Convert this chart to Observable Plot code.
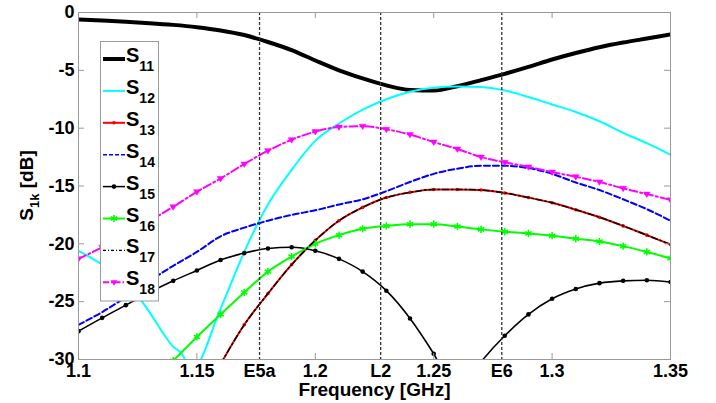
<!DOCTYPE html>
<html><head><meta charset="utf-8">
<script src="https://cdn.jsdelivr.net/npm/d3@7"></script>
<script src="https://cdn.jsdelivr.net/npm/@observablehq/plot@0.6"></script>
<style>body{margin:0;background:#fff;}</style>
</head><body><div id="chart"></div>
<script>
// ---- data ----
const freq = [1.10,1.11,1.12,1.13,1.14,1.15,1.16,1.17,1.18,1.19,1.20,1.21,1.22,1.23,1.24,1.25,1.26,1.27,1.28,1.29,1.30,1.31,1.32,1.33,1.34,1.35];
const S11 = [-0.6,-0.7,-0.8,-0.92,-1.07,-1.27,-1.55,-1.95,-2.55,-3.25,-4.15,-5.0,-5.7,-6.3,-6.7,-6.75,-6.37,-5.85,-5.3,-4.7,-4.06,-3.5,-3.0,-2.6,-2.25,-1.9];
const S12freq = [1.10,1.11,1.12,1.13,1.135,1.14,1.143,1.148,1.16,1.17,1.18,1.19,1.20,1.21,1.22,1.23,1.24,1.25,1.26,1.27,1.28,1.29,1.30,1.31,1.32,1.33,1.34,1.35];
const S12 = [-20.6,-21.8,-23.3,-25.9,-27.5,-28.9,-29.35,-30.8,-25.6,-20.7,-16.6,-13.6,-11.1,-9.6,-8.4,-7.5,-6.85,-6.5,-6.4,-6.45,-6.75,-7.3,-7.95,-8.6,-9.4,-10.4,-11.3,-12.3];
const S13 = [null,null,null,null,null,null,-30.4,-27.0,-24.3,-21.8,-19.7,-18.0,-16.85,-16.0,-15.55,-15.3,-15.3,-15.35,-15.6,-16.0,-16.45,-17.05,-17.7,-18.45,-19.25,-20.05];
const S14 = [-27.0,-25.9,-24.6,-23.2,-21.9,-20.7,-19.35,-18.6,-18.0,-17.5,-17.1,-16.6,-16.15,-15.45,-14.65,-13.95,-13.5,-13.25,-13.25,-13.45,-13.95,-14.7,-15.35,-16.15,-17.0,-18.0];
const S15 = [-27.55,-26.4,-25.3,-24.2,-23.2,-22.3,-21.4,-20.8,-20.4,-20.3,-20.6,-21.3,-22.4,-24.05,-26.45,-29.5,-33.0,-30.2,-27.95,-26.1,-24.75,-23.9,-23.4,-23.2,-23.15,-23.3];
const S16 = [null,null,null,-32.2,-30.1,-28.05,-26.1,-24.2,-22.4,-21.1,-20.0,-19.25,-18.7,-18.45,-18.3,-18.3,-18.5,-18.75,-18.95,-19.1,-19.3,-19.55,-19.8,-20.2,-20.7,-21.25];
const S17 = [null,null,null,null,null,null,-30.4,-27.0,-24.3,-21.8,-19.7,-18.0,-16.85,-16.0,-15.55,-15.3,-15.3,-15.35,-15.6,-16.0,-16.45,-17.05,-17.7,-18.45,-19.25,-20.05];
const S18 = [-21.3,-20.3,-19.2,-18.0,-16.8,-15.5,-14.35,-13.1,-11.95,-11.0,-10.3,-9.9,-9.83,-10.1,-10.55,-11.2,-11.8,-12.5,-12.95,-13.35,-13.8,-14.2,-14.65,-15.2,-15.7,-16.2];
const seriesNames = ["11","12","13","14","15","16","17","18"];
const bandFreqs = [1.17645, 1.2276, 1.27875];
const xTickValues = [1.1, 1.15, 1.17645, 1.2, 1.2276, 1.25, 1.27875, 1.3, 1.35];
const xTickLabels = ["1.1","1.15","E5a","1.2","L2","1.25","E6","1.3","1.35"];
const yTickValues = [0,-5,-10,-15,-20,-25,-30];
const xInnerTicks = [1.15, 1.2, 1.25, 1.3];
const yInnerTicks = [-5,-10,-15,-20,-25];

// ---- build ----
const pts = (xs, ys) => xs.map((x, i) => ({x, y: ys[i]})).filter(d => d.y != null);
const d11 = pts(freq, S11), d12 = pts(S12freq, S12), d13 = pts(freq, S13), d14 = pts(freq, S14),
      d15 = pts(freq, S15), d16 = pts(freq, S16), d17 = pts(freq, S17), d18 = pts(freq, S18);

const triDown = {draw(ctx, size) {
  const r = Math.sqrt(size / Math.PI);
  ctx.moveTo(-r, -0.6 * r); ctx.lineTo(r, -0.6 * r); ctx.lineTo(0, r); ctx.closePath();
}};

const W = 716, H = 403, mL = 78, mR = 46, mT = 12, mB = 44;
const pw = W - mL - mR, ph = H - mT - mB;
const FONT = "'Liberation Sans', Arial, Helvetica, sans-serif";
const frameColor = "#999";
const C = "monotone-x";

const plot = Plot.plot({
  width: W, height: H, marginLeft: mL, marginRight: mR, marginTop: mT, marginBottom: mB,
  style: {fontFamily: FONT, fontWeight: "bold", fontSize: "18px", color: "#000", background: "#fff", overflow: "visible"},
  x: {domain: [1.1, 1.35]},
  y: {domain: [-30, 0]},
  marks: [
    Plot.line(d11, {x: "x", y: "y", curve: C, stroke: "#000", strokeWidth: 4, clip: true}),
    Plot.line(d12, {x: "x", y: "y", curve: C, stroke: "#00ffff", strokeWidth: 2, clip: true}),
    Plot.line(d13, {x: "x", y: "y", curve: C, stroke: "#ff0000", strokeWidth: 2, clip: true}),
    Plot.dot(d13, {x: "x", y: "y", r: 1.8, fill: "#ff0000", clip: true}),
    Plot.line(d14, {x: "x", y: "y", curve: C, stroke: "#0000ff", strokeWidth: 2, strokeDasharray: "6,3", clip: true}),
    Plot.line(d15, {x: "x", y: "y", curve: C, stroke: "#000", strokeWidth: 1.6, clip: true}),
    Plot.dot(d15, {x: "x", y: "y", r: 2.3, fill: "#000", clip: true}),
    Plot.line(d16, {x: "x", y: "y", curve: C, stroke: "#00ff00", strokeWidth: 2, clip: true}),
    Plot.dot(d16, {x: "x", y: "y", r: 3.4, symbol: "asterisk", stroke: "#00ff00", strokeWidth: 1.6, clip: true}),
    Plot.line(d17, {x: "x", y: "y", curve: C, stroke: "#000", strokeWidth: 1.5, strokeDasharray: "6,3,1.5,3", clip: true}),
    Plot.line(d18, {x: "x", y: "y", curve: C, stroke: "#ff00ff", strokeWidth: 2, strokeDasharray: "8,3,2,3", clip: true}),
    Plot.dot(d18, {x: "x", y: "y", r: 3.4, symbol: triDown, fill: "#ff00ff", stroke: "#ff00ff", strokeWidth: 0.5, clip: true}),
    Plot.ruleX(bandFreqs, {stroke: "#333", strokeWidth: 1.3, strokeDasharray: "3,2"}),
    Plot.ruleX(xInnerTicks, {insetTop: ph - 6, stroke: frameColor}),
    Plot.ruleX(xInnerTicks, {insetBottom: ph - 6, stroke: frameColor}),
    Plot.ruleY(yInnerTicks, {insetRight: pw - 6, stroke: frameColor}),
    Plot.ruleY(yInnerTicks, {insetLeft: pw - 6, stroke: frameColor}),
    Plot.frame({stroke: frameColor}),
    Plot.axisX({ticks: xTickValues, tickFormat: (d) => xTickLabels[xTickValues.indexOf(d)], tickSize: 0, tickPadding: 5, label: null}),
    Plot.axisY({ticks: yTickValues, tickFormat: d => String(d), tickSize: 0, tickPadding: 4, label: null}),
    Plot.text(["Frequency [GHz]"], {text: d => d, frameAnchor: "bottom", lineAnchor: "bottom", dy: 36, fontSize: 19})
  ]
});
document.getElementById("chart").appendChild(plot);

// ---- y label with subscript ----
const svg = d3.select(plot);
const yl = svg.append("text")
  .attr("transform", "translate(33," + (mT + ph / 2) + ") rotate(-90)")
  .attr("text-anchor", "middle").attr("font-size", 19).attr("font-weight", "bold").attr("fill", "#000");
yl.append("tspan").text("S");
yl.append("tspan").attr("font-size", 13).attr("dy", 6).text("1k");
yl.append("tspan").attr("dy", -6).text(" [dB]");

// ---- legend ----
const legStyles = [
  {stroke: "#000", w: 4},
  {stroke: "#00ffff", w: 2},
  {stroke: "#ff0000", w: 2, marker: "dot", mfill: "#ff0000", mr: 1.8},
  {stroke: "#0000ff", w: 1.5, dash: "4,2"},
  {stroke: "#000", w: 1.5, marker: "dot", mfill: "#000", mr: 2.3},
  {stroke: "#00ff00", w: 2, marker: "ast"},
  {stroke: "#000", w: 1.3, dash: "3,2,1,2"},
  {stroke: "#ff00ff", w: 2, dash: "6,2,1.5,2", marker: "tri"}
];
const lg = svg.append("g").attr("font-family", FONT).attr("font-weight", "bold").attr("text-anchor", "start");
lg.append("rect").attr("x", 100.5).attr("y", 41.5).attr("width", 58).attr("height", 259.5)
  .attr("fill", "#fff").attr("stroke", frameColor);
seriesNames.forEach((nm, i) => {
  const y = 59 + i * 31.9, st = legStyles[i];
  lg.append("line").attr("x1", 103).attr("x2", 125).attr("y1", y).attr("y2", y)
    .attr("stroke", st.stroke).attr("stroke-width", st.w).attr("stroke-dasharray", st.dash || null);
  if (st.marker === "dot") lg.append("circle").attr("cx", 114).attr("cy", y).attr("r", st.mr).attr("fill", st.mfill);
  if (st.marker === "ast") lg.append("path").attr("transform", `translate(114,${y})`)
    .attr("d", d3.symbol(d3.symbolAsterisk, 3.4 * 3.4 * Math.PI)()).attr("stroke", st.stroke).attr("stroke-width", 1.6).attr("fill", "none");
  if (st.marker === "tri") lg.append("path").attr("transform", `translate(114,${y})`)
    .attr("d", d3.symbol(triDown, 3.4 * 3.4 * Math.PI)()).attr("fill", st.stroke);
  const t = lg.append("text").attr("x", 126).attr("y", y + 3).attr("font-size", 20).attr("fill", "#000").attr("text-anchor", "start");
  t.append("tspan").text("S");
  t.append("tspan").attr("font-size", 14).attr("dy", 9).text(nm);
});
</script>
</body></html>
